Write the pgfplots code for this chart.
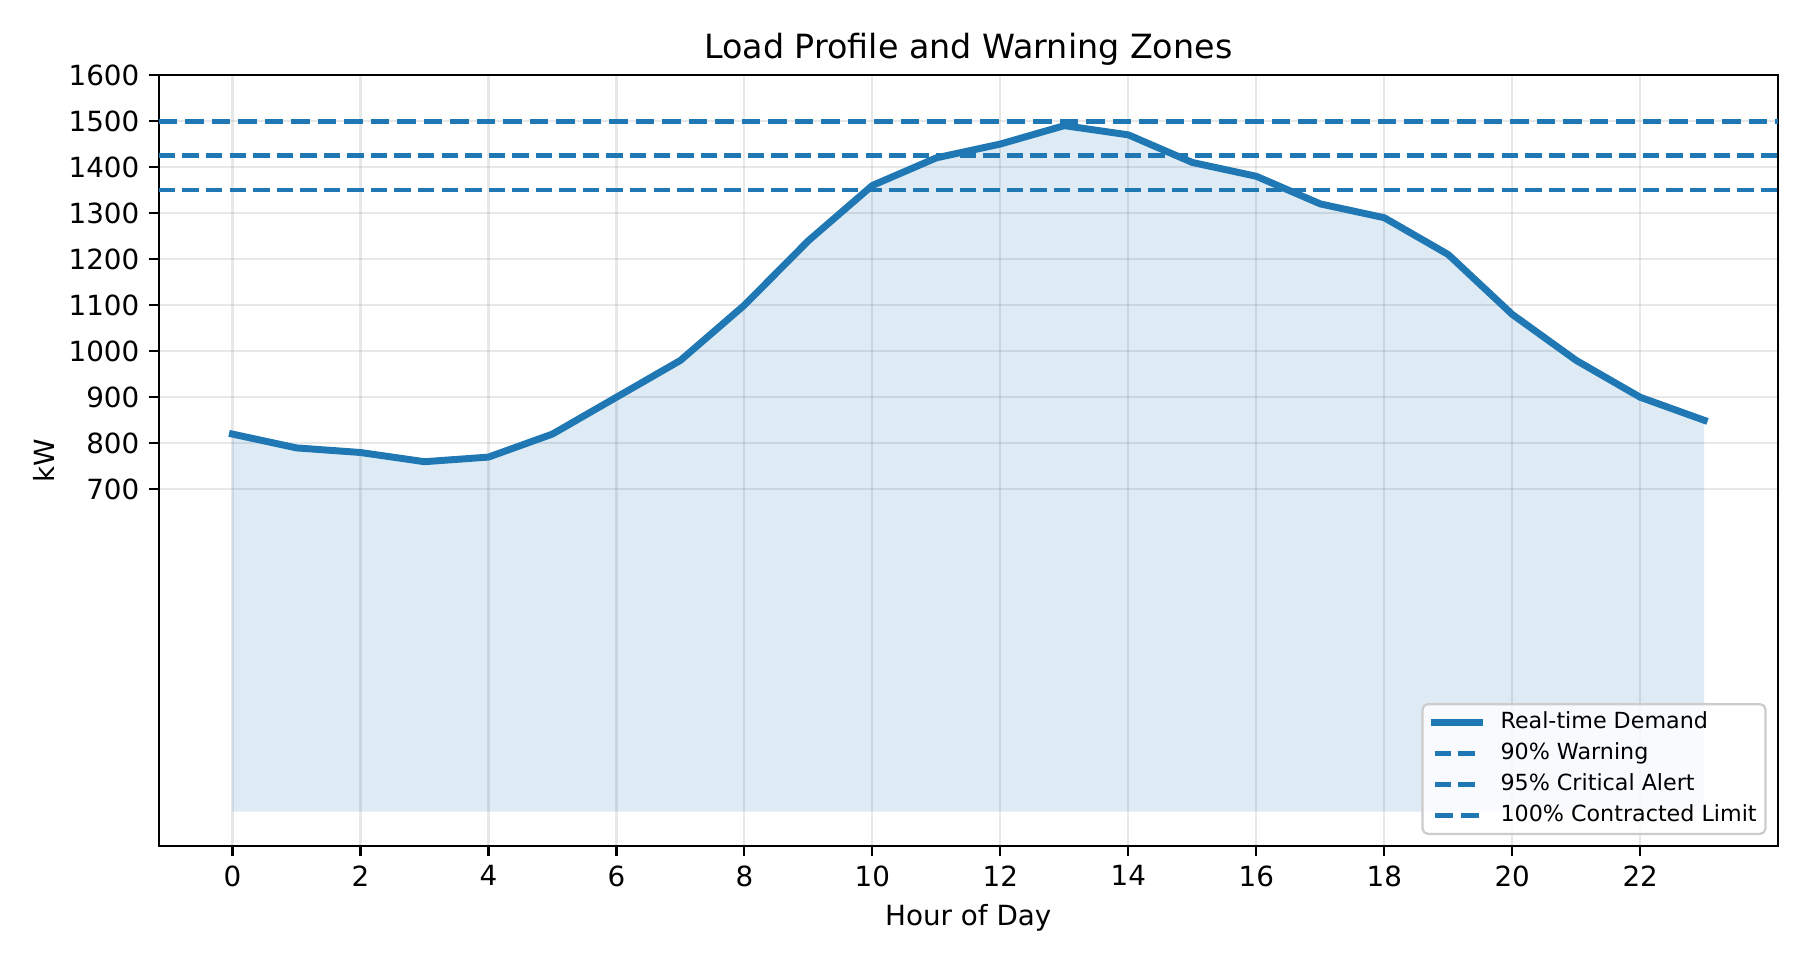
\documentclass[border=0pt]{standalone}
\usepackage{fontspec}
\setmainfont{DejaVu Sans}
\usepackage{pgfplots}
\usepackage{pgfplotstable}
\pgfplotsset{compat=1.18}
\definecolor{c0}{HTML}{1F77B4}
\definecolor{gridc}{HTML}{B0B0B0}
\pgfplotstableread{
x y
0 820
1 790
2 780
3 760
4 770
5 820
6 900
7 980
8 1100
9 1240
10 1360
11 1420
12 1450
13 1490
14 1470
15 1410
16 1380
17 1320
18 1290
19 1210
20 1080
21 980
22 900
23 850
}\demand
\begin{document}
\begin{tikzpicture}
\useasboundingbox (0,0) rectangle (648pt,345.6pt);
\begin{axis}[
  at={(57.2pt,41pt)}, anchor=south west,
  scale only axis, width=582.8pt, height=277.6pt,
  xmin=-1.15, xmax=24.15, ymin=-75, ymax=1600,
  xtick={0,2,...,22}, ytick={700,800,...,1600},
  tick align=outside, tick pos=left, major tick length=3.5pt,
  every tick/.style={black, line width=0.8pt},
  axis line style={line width=0.8pt},
  /pgf/number format/assume math mode=true,
  /pgf/number format/set thousands separator={},
  tick label style={font=\fontsize{10}{12}\selectfont},
  grid=major,
  major grid style={draw=gridc, draw opacity=0.3, line width=0.8pt},
  every axis title shift=0pt,
  title={Load Profile and Warning Zones},
  title style={font=\fontsize{12}{14.4}\selectfont, at={(axis description cs:0.5,1)}, anchor=base, yshift=6pt},
  xlabel={Hour of Day},
  xlabel style={font=\fontsize{10}{12}\selectfont, at={([yshift=-25.9pt]axis description cs:0.5,0)}, anchor=center},
  ylabel={kW},
  ylabel style={font=\fontsize{10}{12}\selectfont, at={([xshift=-41.4pt]axis description cs:0,0.5)}, anchor=center},
  legend cell align=left,
  legend image code/.code={\draw[#1] (0pt,0pt) -- (16pt,0pt);},
  legend style={at={(axis description cs:1,0)}, anchor=south east, xshift=-4pt, yshift=4pt,
    font=\fontsize{8}{9.6}\selectfont, draw=black!20, fill=white, fill opacity=0.8, text opacity=1,
    rounded corners=2pt, line width=0.8pt, inner xsep=3.2pt, inner ysep=2.6pt,
    row sep=3.3pt, column sep=6.4pt,
    nodes={inner sep=0pt, text height=6.2pt, text depth=1.7pt}},
]
\addplot[fill=c0, fill opacity=0.15, draw=none, forget plot] table {\demand} \closedcycle;
\addplot[c0, line width=2.5pt, line join=round, line cap=rect] table {\demand};
\addlegendentry{Real-time Demand}
\addplot[c0, line width=1.6pt, dash pattern=on 5.92pt off 2.56pt] coordinates {(-1.15,1350) (24.15,1350)};
\addlegendentry{90\% Warning}
\addplot[c0, line width=1.6pt, dash pattern=on 5.92pt off 2.56pt] coordinates {(-1.15,1425) (24.15,1425)};
\addlegendentry{95\% Critical Alert}
\addplot[c0, line width=1.8pt, dash pattern=on 6.66pt off 2.88pt] coordinates {(-1.15,1500) (24.15,1500)};
\addlegendentry{100\% Contracted Limit}
\end{axis}
\end{tikzpicture}
\end{document}
